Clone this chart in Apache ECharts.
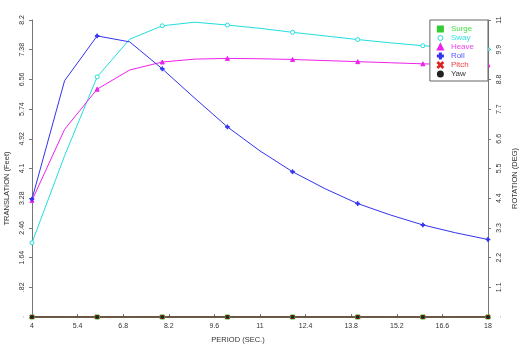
<!DOCTYPE html>
<html><head><meta charset="utf-8">
<script src="https://cdn.jsdelivr.net/npm/echarts@6/dist/echarts.min.js"></script>
<style>html,body{margin:0;padding:0;background:#fff}#c{width:520px;height:358px}</style>
</head><body><div id="c"></div>
<script>
const period = [4,5,6,7,8,9,10,11,12,13,14,15,16,17,18];
const surge = [0,0,0,0,0,0,0,0,0,0,0,0,0,0,0];
const sway  = [2.05,4.45,6.63,7.67,8.04,8.14,8.06,7.97,7.86,7.76,7.66,7.57,7.49,7.44,7.39];
const heave = [3.22,5.18,6.29,6.82,7.04,7.12,7.14,7.13,7.11,7.08,7.05,7.02,6.99,6.97,6.96];
const roll  = [4.37,8.75,10.41,10.19,9.19,8.1,7.04,6.15,5.38,4.75,4.20,3.78,3.41,3.12,2.87];
const pitch = [0,0,0,0,0,0,0,0,0,0,0,0,0,0,0];
const yaw   = [0,0,0,0,0,0,0,0,0,0,0,0,0,0,0];
const xTicks = ['4','5.4','6.8','8.2','9.6','11','12.4','13.8','15.2','16.6','18'];
const leftTicks = ['.','.82','1.64','2.46','3.28','4.1','4.92','5.74','6.56','7.38','8.2'];
const rightTicks = ['.','1.1','2.2','3.3','4.4','5.5','6.6','7.7','8.8','9.9','11'];
const X0 = 4;

const PLUS = 'path://M4,0h2v4h4v2h-4v4h-2v-4h-4v-2h4z';
const CROSS = 'path://M1,0L5,4L9,0L10,1L6,5L10,9L9,10L5,6L1,10L0,9L4,5L0,1z';
const SQC = 'path://M0,0h10v10h-10z M2,2v6h6v-6z M4,4h2v2h-2z';

const font = 'Liberation Sans, Arial, sans-serif';
const axisCol = '#777';

function mk(name, vals, color, symbol, size, yIdx, fill) {
  return {
    name, type: 'line', yAxisIndex: yIdx,
    data: period.map((p, i) => ({
      value: [p - X0, vals[i]],
      symbol: (p % 2 === 0) ? symbol : 'none'
    })),
    symbolSize: size,
    lineStyle: { color, width: 1 },
    itemStyle: { color: fill === false ? '#fff' : color, borderColor: color, borderWidth: 1 },
    emphasis: { disabled: true },
    animation: false
  };
}

const chart = echarts.init(document.getElementById('c'), null, { renderer: 'canvas' });
chart.setOption({
  backgroundColor: '#fff',
  animation: false,
  grid: { left: 32, right: 32, top: 20, bottom: 41, containLabel: false, outerBoundsMode: 'none' },
  legend: {
    right: 32, top: 20, orient: 'vertical',
    backgroundColor: '#fff', borderColor: '#666', borderWidth: 1,
    padding: [5, 14, 3, 7], itemGap: 1, itemWidth: 5, itemHeight: 5,
    textStyle: { fontFamily: font, fontSize: 8, padding: [0, 0, 0, 3] },
    data: [
      { name: 'Surge', icon: SQC, itemStyle: { color: '#3c3' }, textStyle: { color: '#44dd44' } },
      { name: 'Sway', icon: 'circle', itemStyle: { color: '#fff', borderColor: '#2dd', borderWidth: 1 }, textStyle: { color: '#33dddd' } },
      { name: 'Heave', icon: 'triangle', itemStyle: { color: '#e2e' }, textStyle: { color: '#ee44ee' } },
      { name: 'Roll', icon: PLUS, itemStyle: { color: '#33e' }, textStyle: { color: '#5555ff' } },
      { name: 'Pitch', icon: CROSS, itemStyle: { color: '#e33' }, textStyle: { color: '#ee4444' } },
      { name: 'Yaw', icon: 'circle', itemStyle: { color: '#222' }, textStyle: { color: '#333' } }
    ]
  },
  xAxis: {
    type: 'value', min: 0, max: 14, interval: 1.4,
    name: 'PERIOD (SEC.)', nameLocation: 'middle', nameGap: 19,
    nameTextStyle: { fontFamily: font, fontSize: 7.5, color: '#333', padding: [0, 44, 0, 0] },
    axisLine: { show: true, onZero: false, lineStyle: { color: axisCol } },
    axisTick: { show: true, inside: true, length: 3, lineStyle: { color: axisCol } },
    axisLabel: { fontFamily: font, fontSize: 7, color: '#333', margin: 6,
      formatter: (v) => xTicks[Math.round(v / 1.4)] },
    splitLine: { show: false }
  },
  yAxis: [{
    type: 'value', min: 0, max: 8.2, interval: 0.82, position: 'left',
    name: 'TRANSLATION (Feet)', nameLocation: 'middle', nameGap: 11, nameRotate: 90,
    nameTextStyle: { fontFamily: font, fontSize: 7.5, color: '#333', padding: [0, 40, 0, 0] },
    axisLine: { show: true, onZero: false, lineStyle: { color: axisCol } },
    axisTick: { show: true, length: 3, lineStyle: { color: axisCol } },
    axisLabel: { fontFamily: font, fontSize: 7, color: '#333', rotate: 90, margin: 6,
      formatter: (v) => leftTicks[Math.round(v / 0.82)] },
    splitLine: { show: false }
  }, {
    type: 'value', min: 0, max: 11, interval: 1.1, position: 'right',
    name: 'ROTATION (DEG)', nameLocation: 'middle', nameGap: 20, nameRotate: 90,
    nameTextStyle: { fontFamily: font, fontSize: 7.5, color: '#333', padding: [0, 20, 0, 0] },
    axisLine: { show: true, onZero: false, lineStyle: { color: axisCol } },
    axisTick: { show: true, length: 3, lineStyle: { color: axisCol } },
    axisLabel: { fontFamily: font, fontSize: 7, color: '#333', rotate: 90, margin: 8,
      formatter: (v) => rightTicks[Math.round(v / 1.1)] },
    splitLine: { show: false }
  }],
  series: [
    mk('Surge', surge, '#33cc33', SQC, 4, 0),
    mk('Sway', sway, '#22dddd', 'circle', 4, 0, false),
    mk('Heave', heave, '#ee22ee', 'triangle', 4, 0),
    mk('Roll', roll, '#3333ee', PLUS, 4, 1),
    mk('Pitch', pitch, '#dd2222', CROSS, 4, 1),
    mk('Yaw', yaw, '#222222', 'circle', 3, 1)
  ]
});
</script>
</body></html>
